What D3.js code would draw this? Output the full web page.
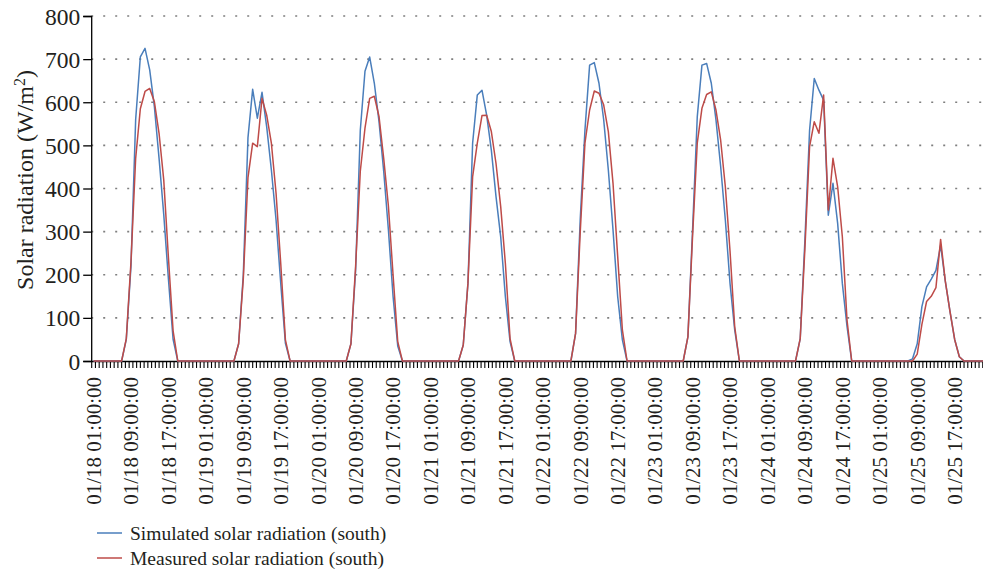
<!DOCTYPE html>
<html>
<head>
<meta charset="utf-8">
<script src="https://cdn.jsdelivr.net/npm/d3@7"></script>
<style>
  html, body { margin: 0; padding: 0; background: #fff; }
  svg { display: block; }
  text { font-family: "Liberation Serif", "DejaVu Serif", serif; fill: #231f20; }
</style>
</head>
<body>
<svg id="chart" width="983" height="571"></svg>
<script>
// Hourly south-facing solar radiation, 01/18 01:00 to 01/25 24:00 (24 values per day).
const simulated = [
  0,0,0,0,0,0,0, 50,220,560,705,725,675,590,470,340,190,50, 0,0,0,0,0,0,
  0,0,0,0,0,0,0, 40,200,518,630,563,623,543,443,327,180,41, 0,0,0,0,0,0,
  0,0,0,0,0,0,0, 40,210,535,672,705,644,555,440,305,150,35, 0,0,0,0,0,0,
  0,0,0,0,0,0,0, 37,180,505,617,628,570,489,381,288,149,45, 0,0,0,0,0,0,
  0,0,0,0,0,0,0, 64,330,535,686,692,644,560,443,304,149,49, 0,0,0,0,0,0,
  0,0,0,0,0,0,0, 56,304,566,686,690,644,559,451,327,180,72, 0,0,0,0,0,0,
  0,0,0,0,0,0,0, 52,280,535,655,628,605,338,412,319,180,80, 0,0,0,0,0,0,
  0,0,0,0,0,0,0,  5, 40,126,172,190,210,268,185,115, 50,10, 0,0,0,0,0,0
];
const measured = [
  0,0,0,0,0,0,0, 52,230,470,585,625,632,601,528,420,240,70, 0,0,0,0,0,0,
  0,0,0,0,0,0,0, 40,190,425,505,497,609,570,505,389,226,49, 0,0,0,0,0,0,
  0,0,0,0,0,0,0, 40,220,440,540,609,614,567,470,360,200,45, 0,0,0,0,0,0,
  0,0,0,0,0,0,0, 37,180,427,505,569,570,532,458,358,226,52, 0,0,0,0,0,0,
  0,0,0,0,0,0,0, 64,300,505,582,626,621,594,532,412,242,72, 0,0,0,0,0,0,
  0,0,0,0,0,0,0, 56,290,505,586,618,624,582,512,404,255,80, 0,0,0,0,0,0,
  0,0,0,0,0,0,0, 52,260,497,555,528,617,350,470,404,288,95, 0,0,0,0,0,0,
  0,0,0,0,0,0,0,  0, 16, 85,138,150,170,282,185,115, 50,10, 0,0,0,0,0,0
];
const days = ["01/18", "01/19", "01/20", "01/21", "01/22", "01/23", "01/24", "01/25"];
const labelHours = ["01:00:00", "09:00:00", "17:00:00"];
const yTicks = [0, 100, 200, 300, 400, 500, 600, 700, 800];
const seriesNames = ["Simulated solar radiation (south)", "Measured solar radiation (south)"];
const seriesColors = ["#4a7ebb", "#be4b48"];

// Category labels every 8 hours: "01/18 01:00:00", "01/18 09:00:00", ...
const tickLabels = [];
days.forEach(d => labelHours.forEach(h => tickLabels.push(d + " " + h)));

const svg = d3.select("#chart");
const plotLeft = 91.2, plotTop = 16, plotBottom = 361;
const nHours = simulated.length;
const hourWidth = 4.68;

const x = d3.scaleLinear().domain([0, nHours]).range([plotLeft, plotLeft + nHours * hourWidth]);
const y = d3.scaleLinear().domain([0, 800]).range([plotBottom, plotTop]);

// dotted horizontal gridlines
svg.append("g")
  .selectAll("line")
  .data(yTicks.filter(v => v > 0))
  .join("line")
  .attr("x1", plotLeft).attr("x2", 983)
  .attr("y1", d => y(d)).attr("y2", d => y(d))
  .attr("stroke", "#7f7f7f")
  .attr("stroke-width", 1.6)
  .attr("stroke-dasharray", "2 10");

// y axis
const yAxis = svg.append("g")
  .attr("transform", `translate(${plotLeft},0)`)
  .call(d3.axisLeft(y).tickValues(yTicks).tickSize(8).tickPadding(3).tickFormat(d3.format("d")));
yAxis.selectAll("text").style("font-size", "23.5px").attr("dy", "0.34em");
yAxis.selectAll("line, path").attr("stroke", "#000").attr("stroke-width", 1.3);

// x axis: minor ticks every 48 minutes (10 per label interval)
const tickVals = d3.range(0, 241).map(i => i * nHours / 240);
const xAxis = svg.append("g")
  .attr("transform", `translate(0,${plotBottom})`)
  .call(d3.axisBottom(x).tickValues(tickVals).tickSizeInner(7).tickSizeOuter(0).tickFormat(""));
xAxis.selectAll("line, path").attr("stroke", "#000").attr("stroke-width", 1.1);
xAxis.select("path").attr("stroke-width", 1.6);

// rotated category labels, one every 8 hours, centred on the hour
svg.append("g")
  .selectAll("text")
  .data(tickLabels)
  .join("text")
  .attr("transform", (d, i) => `translate(${x(i * 8 + 0.5)},377) rotate(-90)`)
  .attr("text-anchor", "end")
  .attr("dy", "0.35em")
  .style("font-size", "21px")
  .text(d => d);

// series lines
const line = d3.line()
  .x((d, i) => x(i + 0.5))
  .y(d => y(d));

[simulated, measured].forEach((values, k) => {
  svg.append("path")
    .datum(values)
    .attr("fill", "none")
    .attr("stroke", seriesColors[k])
    .attr("stroke-width", 1.5)
    .attr("stroke-linejoin", "round")
    .attr("d", line);
});

// y axis title
const title = svg.append("text")
  .attr("transform", "translate(25,180) rotate(-90)")
  .attr("text-anchor", "middle")
  .attr("dy", "0.35em")
  .style("font-size", "24px");
title.append("tspan").text("Solar radiation (W/m");
title.append("tspan").attr("baseline-shift", "super").style("font-size", "16px").text("2");
title.append("tspan").text(")");

// legend
const legend = svg.append("g");
seriesNames.forEach((name, k) => {
  const ly = 533 + k * 25;
  legend.append("line")
    .attr("x1", 97).attr("x2", 122)
    .attr("y1", ly).attr("y2", ly)
    .attr("stroke", seriesColors[k])
    .attr("stroke-width", 1.5);
  legend.append("text")
    .attr("x", 130).attr("y", ly)
    .attr("dy", "0.35em")
    .style("font-size", "19.5px")
    .text(name);
});
</script>
</body>
</html>
